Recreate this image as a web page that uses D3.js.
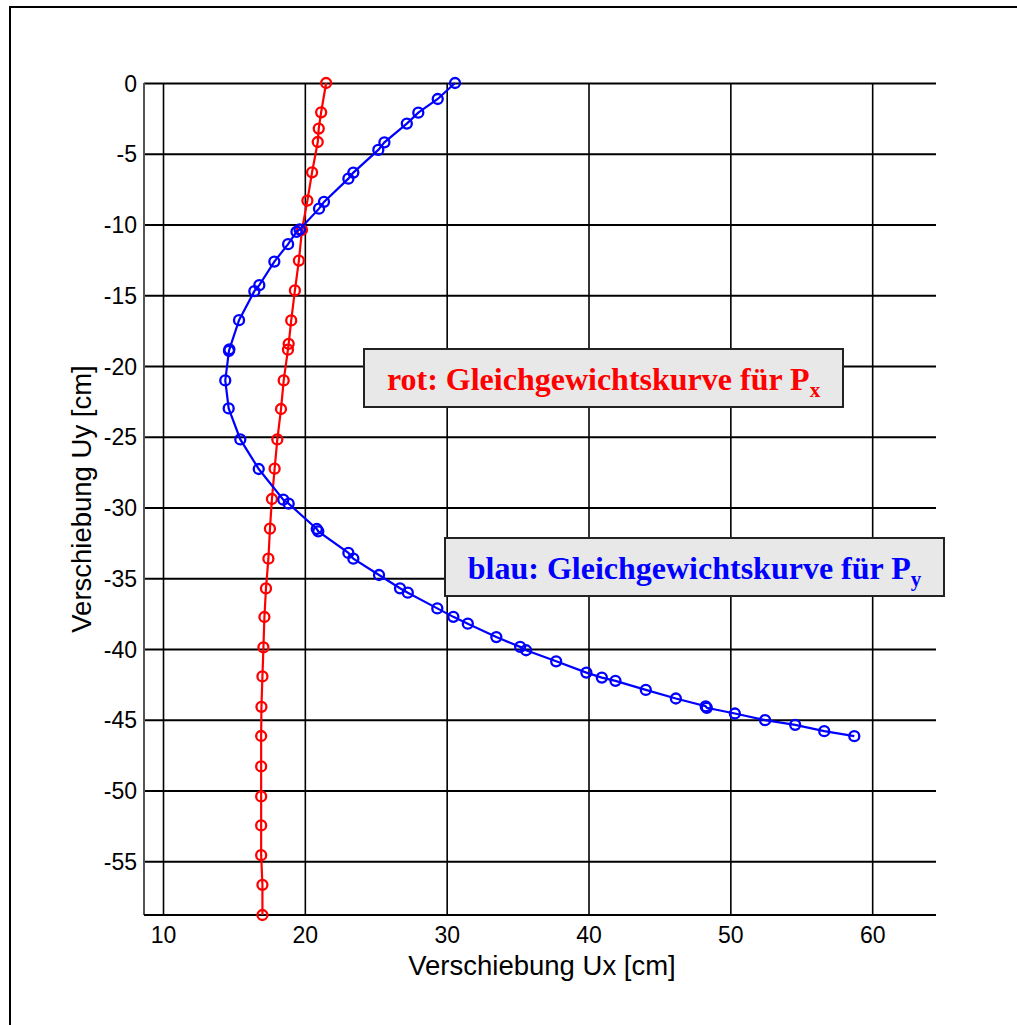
<!DOCTYPE html>
<html>
<head>
<meta charset="utf-8">
<script src="https://cdn.jsdelivr.net/npm/d3@7"></script>
<style>
  html, body { margin: 0; padding: 0; background: #fff; }
  svg { display: block; }
</style>
</head>
<body>
<svg id="chart" width="1017" height="1025"></svg>
<script>
// Gleichgewichtskurve für Px (rot): Ux [cm], Uy [cm]
const redUx = [21.50, 21.15, 20.98, 20.91, 20.51, 20.18, 19.80, 19.58, 19.30, 19.04,
               18.86, 18.81, 18.51, 18.32, 18.06, 17.87, 17.68, 17.54, 17.43, 17.26,
               17.15, 17.08, 17.01, 16.94, 16.92, 16.92, 16.92, 16.92, 16.92, 17.01, 17.01];
const redUy = [0, -2.07, -3.22, -4.17, -6.31, -8.31, -10.38, -12.55, -14.66, -16.78,
               -18.43, -18.85, -21.02, -23.04, -25.19, -27.26, -29.40, -31.50, -33.62, -35.72,
               -37.74, -39.89, -41.94, -44.09, -46.15, -48.30, -50.42, -52.47, -54.57, -56.67, -58.80];

// Gleichgewichtskurve für Py (blau): Ux [cm], Uy [cm]
const blueUx = [30.59, 29.37, 28.00, 27.19, 25.61, 25.18, 23.42, 23.07, 21.35, 21.00,
                19.63, 19.41, 18.82, 17.85, 16.79, 16.44, 15.36, 14.68, 14.65, 14.39,
                14.63, 15.45, 16.75, 18.48, 18.86, 20.84, 20.95, 23.07, 23.42, 25.23,
                26.71, 27.26, 29.34, 30.47, 31.49, 33.50, 35.18, 35.60, 37.72, 39.85,
                40.94, 41.90, 44.04, 46.16, 48.26, 48.34, 50.32, 52.45, 54.57, 56.62, 58.74];
const blueUy = [0, -1.13, -2.10, -2.87, -4.19, -4.73, -6.33, -6.76, -8.40, -8.88,
                -10.35, -10.52, -11.39, -12.62, -14.29, -14.71, -16.76, -18.82, -18.93, -21.02,
                -23.00, -25.19, -27.28, -29.45, -29.73, -31.52, -31.69, -33.21, -33.62, -34.77,
                -35.71, -36.02, -37.13, -37.73, -38.21, -39.16, -39.85, -40.09, -40.87, -41.67,
                -42.02, -42.25, -42.89, -43.50, -44.05, -44.16, -44.56, -45.03, -45.36, -45.81, -46.16];

// Tick values
const xTicks = [10, 20, 30, 40, 50, 60];
const yTicks = [0, -5, -10, -15, -20, -25, -30, -35, -40, -45, -50, -55];

const svg = d3.select("#chart");
const plotL = 144, plotR = 936, plotT = 83, plotB = 915;

const x = d3.scaleLinear().domain([8.66, 64.5]).range([plotL, plotR]);
const y = d3.scaleLinear().domain([-58.8, 0]).range([plotB, plotT]);

// figure frame (top and left edges)
svg.append("path")
  .attr("d", "M10,1025 L10,7 L1017,7")
  .attr("fill", "none").attr("stroke", "#000").attr("stroke-width", 2);

const tickFont = "'Liberation Sans Narrow', 'Arial Narrow', 'Liberation Sans', Arial, sans-serif";

// grid via axes
const gx = svg.append("g")
  .attr("transform", `translate(0,${plotB})`)
  .call(d3.axisBottom(x).tickValues(xTicks).tickSize(-(plotB - plotT)).tickPadding(12).tickFormat(d3.format("d")));
const gy = svg.append("g")
  .attr("transform", `translate(${plotL},0)`)
  .call(d3.axisLeft(y).tickValues(yTicks).tickSize(-(plotR - plotL)).tickPadding(7).tickFormat(d => String(d)));

[gx, gy].forEach(g => {
  g.select(".domain").remove();
  g.selectAll(".tick text")
    .attr("fill", "#000")
    .style("font-family", tickFont)
    .style("font-size", "23px");
});
gx.selectAll(".tick line").attr("stroke", "#000").attr("stroke-width", 1.6);
gy.selectAll(".tick line").attr("stroke", "#000").attr("stroke-width", 2);
gx.selectAll(".tick text").attr("dy", "0.71em");
gy.selectAll(".tick text").attr("dy", "0.35em");

// axis lines
svg.append("line").attr("x1", plotL).attr("x2", plotL).attr("y1", plotT).attr("y2", plotB)
  .attr("stroke", "#555").attr("stroke-width", 2);
svg.append("line").attr("x1", plotL).attr("x2", plotR).attr("y1", plotB).attr("y2", plotB)
  .attr("stroke", "#000").attr("stroke-width", 2);

// axis titles
svg.append("text")
  .attr("x", (plotL + plotR) / 2 + 2).attr("y", 975)
  .attr("text-anchor", "middle")
  .style("font-family", tickFont).style("font-size", "27.5px")
  .text("Verschiebung Ux [cm]");
svg.append("text")
  .attr("transform", `translate(91,${(plotT + plotB) / 2}) rotate(-90)`)
  .attr("text-anchor", "middle")
  .style("font-family", tickFont).style("font-size", "27.5px")
  .text("Verschiebung Uy [cm]");

// curves
const series = [
  { ux: redUx, uy: redUy, color: "#ff0000" },
  { ux: blueUx, uy: blueUy, color: "#0000ff" }
];
const line = d3.line().x(d => x(d[0])).y(d => y(d[1]));
series.forEach(s => {
  const pts = s.ux.map((v, i) => [v, s.uy[i]]);
  svg.append("path").datum(pts)
    .attr("d", line).attr("fill", "none")
    .attr("stroke", s.color).attr("stroke-width", 2.2);
  svg.append("g").selectAll("circle").data(pts).join("circle")
    .attr("cx", d => x(d[0])).attr("cy", d => y(d[1])).attr("r", 5)
    .attr("fill", "none").attr("stroke", s.color).attr("stroke-width", 2.3);
});

// annotation boxes
const notes = [
  { text: "rot: Gleichgewichtskurve für P", sub: "x", color: "#ff0000", bx: 364, by: 349, bw: 479, bh: 58 },
  { text: "blau: Gleichgewichtskurve für P", sub: "y", color: "#0000ff", bx: 445, by: 538, bw: 499, bh: 58 }
];
notes.forEach(n => {
  svg.append("rect")
    .attr("x", n.bx).attr("y", n.by).attr("width", n.bw).attr("height", n.bh)
    .attr("fill", "#e8e8e8").attr("stroke", "#222").attr("stroke-width", 2);
  const t = svg.append("text")
    .attr("x", n.bx + n.bw / 2).attr("y", n.by + 41)
    .attr("text-anchor", "middle")
    .attr("fill", n.color)
    .style("font-family", "'Liberation Serif', 'Times New Roman', serif")
    .style("font-weight", "bold").style("font-size", "32px");
  t.append("tspan").text(n.text);
  t.append("tspan").attr("dy", 7).style("font-size", "21px").text(n.sub);
});
</script>
</body>
</html>
